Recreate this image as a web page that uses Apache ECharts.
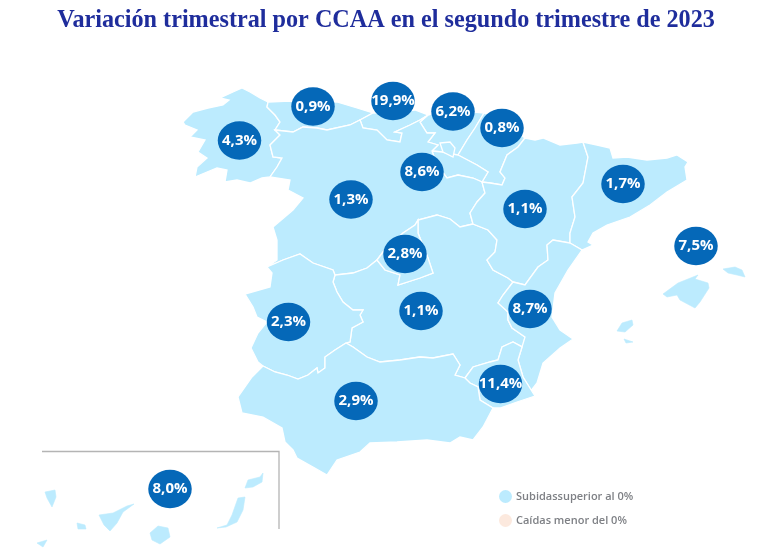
<!DOCTYPE html>
<html><head><meta charset="utf-8">
<style>html,body{margin:0;padding:0;background:#fff}#c{width:768px;height:556px}</style>
<script src="https://cdn.jsdelivr.net/npm/echarts@6/dist/echarts.min.js"></script>
</head><body><div id="c"></div>
<script>
// ---------- data ----------
const titleText = 'Variación trimestral por CCAA en el segundo trimestre de 2023';
const regionNames = ['Galicia','Asturias','Cantabria','País Vasco','Navarra','La Rioja','Castilla y León','Madrid','Aragón','Cataluña','Baleares','Castilla-La Mancha','Extremadura','Andalucía','Murcia','Comunidad Valenciana','Canarias'];
const regionValues = [4.3,0.9,19.9,6.2,0.8,8.6,1.3,2.8,1.1,1.7,7.5,1.1,2.3,2.9,11.4,8.7,8.0];
const islandRegions = ['Baleares','Canarias'];
const legendUp = 'Subidassuperior al 0%';
const legendDown = 'Caídas menor del 0%';

// ---------- map geometry (map units), shared borders ----------
const arcs = {
 gal_coast:[[268,102],[260,98],[250,92],[242,88],[233,92],[220,98],[229,100],[223,105],[208,108],[193,112],[183,122],[185,125],[197,130],[190,137],[205,140],[198,152],[207,158],[197,167],[195,177],[207,172],[217,168],[227,170],[225,182],[237,180],[250,183],[262,178],[270,177]],
 gal_ast:[[275,130],[280,122],[275,115],[267,107],[268,102]],
 gal_cyl:[[270,177],[277,167],[282,158],[273,157],[270,145],[280,135],[275,130]],
 ast_coast:[[268,102],[290,101],[337,102],[357,108],[373,113]],
 ast_cant:[[373,113],[360,120]],
 ast_cyl:[[275,130],[293,132],[303,127],[317,128],[327,130],[350,125],[360,120]],
 cant_coast:[[373,113],[393,112],[415,110],[428,115]],
 cant_cyl:[[360,120],[363,128],[377,130],[387,140],[400,142],[402,133],[395,132],[410,125],[420,120],[428,115]],
 pv_coast:[[428,115],[447,110],[465,111],[484,113]],
 pv_nav:[[484,113],[475,128],[467,140],[458,155]],
 pv_rio:[[458,155],[442,152],[432,151]],
 pv_cyl:[[428,115],[420,122],[427,133],[435,133],[428,142],[438,145],[432,151]],
 rio_nav:[[458,155],[477,165],[488,172],[482,182]],
 rio_cyl:[[432,151],[437,165],[447,178],[458,175],[473,178],[482,182]],
 nav_coast:[[484,113],[500,120],[525,138]],
 nav_ara:[[525,138],[518,147],[507,155],[500,172],[505,178],[502,185],[490,183],[482,182]],
 ara_front:[[525,138],[535,140],[543,138],[560,145],[577,143],[583,142]],
 ara_cyl:[[482,182],[485,193],[477,202],[470,213],[473,224]],
 ara_clm:[[473,224],[488,230],[497,240],[495,252],[487,260],[493,270],[508,278],[513,282]],
 ara_val:[[513,282],[525,285],[538,267],[548,260],[547,245],[553,240],[570,243]],
 ara_cat:[[570,243],[570,233],[575,217],[572,197],[583,183],[588,157],[583,142]],
 cat_coast:[[583,142],[597,145],[610,148],[613,158],[627,157],[647,160],[667,158],[677,155],[688,162],[685,167],[687,180],[667,192],[650,205],[630,217],[607,225],[593,233],[588,242],[593,245],[582,250]],
 cat_val:[[570,243],[582,250]],
 val_coast:[[582,250],[568,270],[555,293],[552,317],[560,330],[573,339],[560,348],[543,363],[537,383],[530,392],[533,393]],
 val_clm:[[513,282],[503,295],[498,303],[508,312],[508,320],[512,328],[525,337],[523,347],[522,347]],
 val_mur:[[522,347],[518,360],[523,377],[528,385],[533,393]],
 mur_coast:[[533,393],[535,396],[517,402],[500,408],[493,408]],
 mur_clm:[[465,378],[473,367],[490,362],[498,360],[502,347],[513,342],[522,347]],
 mur_and:[[465,378],[470,383],[478,387],[480,400],[493,408]],
 and_coast:[[493,408],[483,427],[473,440],[460,437],[450,443],[427,440],[397,442],[370,443],[360,452],[337,460],[327,475],[313,467],[297,458],[293,450],[285,442],[282,428],[263,417],[242,413],[238,397],[252,377],[263,366]],
 and_ext:[[263,366],[275,372],[287,375],[298,379],[308,375],[317,368],[318,373],[325,368],[325,357],[335,350],[346,343]],
 and_clm:[[346,343],[353,347],[367,357],[380,362],[400,360],[420,357],[433,358],[453,354],[460,365],[455,375],[465,378]],
 ext_clm:[[346,343],[350,342],[352,328],[363,322],[360,315],[363,310],[353,310],[343,302],[337,292],[333,282],[335,275]],
 ext_cyl:[[267,267],[283,260],[300,254],[313,263],[333,270],[335,275]],
 ext_port:[[267,267],[272,273],[270,287],[245,294],[253,307],[257,317],[267,322],[258,333],[251,348],[258,362],[263,366]],
 cyl_port:[[270,177],[290,180],[288,190],[303,198],[293,210],[273,227],[277,240],[277,260],[267,267]],
 cyl_clmN:[[473,224],[460,227],[450,219],[437,215],[418,220]],
 cyl_mad:[[377,260],[383,252],[403,233],[415,225],[418,220]],
 cyl_clmS:[[335,275],[353,273],[367,268],[377,260]],
 mad_clm:[[418,220],[418,233],[428,258],[433,273],[420,278],[398,285],[400,275],[385,270],[377,260]]
};
const islands = {
 mallorca:[[663,294],[678,283],[693,277],[698,275],[695,279],[708,283],[709,288],[700,302],[695,308],[680,300],[677,295],[667,297]],
 menorca:[[723,269],[735,267],[742,270],[745,277],[737,275],[728,273]],
 ibiza:[[617,331],[622,323],[632,320],[633,325],[625,332]],
 formentera:[[624,339],[627,340],[633,342],[626,343]],
 hierro:[[37,543],[47,540],[43,547]],
 gomera:[[77,523],[85,525],[86,529],[78,529]],
 palma:[[45,492],[55,490],[56,497],[52,507],[47,498]],
 tenerife:[[99,515],[113,513],[127,506],[134,504],[123,512],[117,523],[110,531],[104,525]],
 grancanaria:[[150,533],[158,526],[168,528],[170,537],[160,544],[152,540]],
 fuerteventura:[[217,528],[227,525],[232,515],[238,498],[245,497],[243,510],[237,522],[226,527]],
 lanzarote:[[245,488],[248,480],[260,477],[263,473],[262,482],[253,487]],
 trevino:[[440,143],[450,142],[455,148],[453,157],[443,152]]
};
const rings = {
 'Galicia':[['gal_coast','gal_cyl','gal_ast']],
 'Asturias':[['ast_coast','ast_cant','-ast_cyl','gal_ast']],
 'Cantabria':[['cant_coast','-cant_cyl','-ast_cant']],
 'País Vasco':[['pv_coast','pv_nav','pv_rio','-pv_cyl']],
 'Navarra':[['nav_coast','nav_ara','-rio_nav','-pv_nav']],
 'La Rioja':[['rio_nav','-rio_cyl','-pv_rio']],
 'Castilla y León':[['ast_cyl','cant_cyl','pv_cyl','rio_cyl','ara_cyl','cyl_clmN','-cyl_mad','-cyl_clmS','-ext_cyl','-cyl_port','gal_cyl'],['trevino']],
 'Castilla-La Mancha':[['ara_clm','val_clm','-mur_clm','-and_clm','ext_clm','cyl_clmS','-mad_clm','-cyl_clmN']],
 'Madrid':[['cyl_mad','mad_clm']],
 'Aragón':[['ara_front','-ara_cat','-ara_val','-ara_clm','-ara_cyl','-nav_ara']],
 'Cataluña':[['cat_coast','-cat_val','ara_cat']],
 'Comunidad Valenciana':[['ara_val','cat_val','val_coast','-val_mur','-val_clm']],
 'Murcia':[['mur_clm','val_mur','mur_coast','-mur_and']],
 'Extremadura':[['ext_cyl','-ext_clm','-and_ext','-ext_port']],
 'Andalucía':[['and_ext','and_clm','mur_and','and_coast']],
 'Baleares':[['mallorca'],['menorca'],['ibiza'],['formentera']],
 'Canarias':[['hierro'],['gomera'],['palma'],['tenerife'],['grancanaria'],['fuerteventura'],['lanzarote']]
};
// anchor of each region's bubble, a property of the map
const anchors = {
 'Galicia':[239.5,140.5],'Asturias':[313,106.5],'Cantabria':[393,101],'País Vasco':[453,111.5],'Navarra':[502,128],'La Rioja':[422,172],
 'Castilla y León':[351,199.5],'Madrid':[405,254],'Aragón':[525,209],'Cataluña':[623,184],'Baleares':[696,246],'Castilla-La Mancha':[421,311],
 'Extremadura':[288.5,322],'Andalucía':[356,401],'Murcia':[500.5,384],'Comunidad Valenciana':[530,309],'Canarias':[170,489]
};

function buildRing(list){
  const out=[];
  list.forEach(n=>{
    const rev=n[0]==='-', key=rev?n.slice(1):n;
    const p=(arcs[key]||islands[key]).slice();
    if(rev)p.reverse();
    out.push(...p);
  });
  if(out[0][0]!==out[out.length-1][0]||out[0][1]!==out[out.length-1][1])out.push(out[0]);
  return out;
}
const geoJson={type:'FeatureCollection',features:Object.keys(rings).map(name=>({
  type:'Feature',
  properties:{name},
  geometry:{type:'MultiPolygon',coordinates:rings[name].map(r=>[buildRing(r)])}
}))};
echarts.registerMap('espana',geoJson);

const colorUp='#BCEBFE', colorDown='#FBE3D6', bubble='#0568B8';
const fmt=v=>v.toFixed(1).replace('.',',')+'%';
const bubbleData=regionNames.map((n,i)=>({name:n,value:[anchors[n][0],anchors[n][1],regionValues[i]]}));
const regionStyle=(n,i)=>{
  const fill=regionValues[i]>0?colorUp:colorDown;
  return islandRegions.includes(n)?{areaColor:fill,borderColor:fill,borderWidth:0.6}:{areaColor:fill};
};

const chart=echarts.init(document.getElementById('c'),null,{renderer:'canvas'});
chart.setOption({
  animation:false,
  backgroundColor:'#fff',
  title:{text:titleText,left:386,textAlign:'center',top:9,padding:0,
    textStyle:{fontFamily:'"Liberation Serif"',fontWeight:'bold',fontSize:24.2,color:'#1F2D9C'}},
  legend:{left:499,top:490,orient:'vertical',itemGap:11,itemWidth:13,itemHeight:16,selectedMode:false,padding:0,
    textStyle:{fontFamily:'"Open Sans"',fontSize:11,fontWeight:600,color:'#7E8085',padding:[0,0,0,-1]},
    data:[{name:legendUp,icon:'circle',itemStyle:{color:colorUp}},{name:legendDown,icon:'circle',itemStyle:{color:colorDown}}]},
  geo:{map:'espana',silent:true,roam:false,
    projection:{project:p=>p,unproject:p=>p},
    boundingCoords:[[0,0],[768,556]],left:0,top:0,width:768,height:556,
    itemStyle:{areaColor:colorUp,borderColor:'#fff',borderWidth:1.3},
    regions:regionNames.map((n,i)=>({name:n,itemStyle:regionStyle(n,i)})),
    label:{show:false},emphasis:{disabled:true}},
  series:[
    {name:legendUp,type:'scatter',coordinateSystem:'geo',geoIndex:0,symbol:'circle',symbolSize:[43.5,38.5],silent:true,
     itemStyle:{color:bubble,opacity:1},data:bubbleData,z:5,
     encode:{value:2},
     label:{show:true,position:'inside',formatter:p=>fmt(p.value[2]),color:'#fff',fontFamily:'"Open Sans"',fontWeight:'bold',fontSize:15}},
    {name:legendDown,type:'scatter',coordinateSystem:'geo',geoIndex:0,silent:true,itemStyle:{color:colorDown},data:[]}
  ],
  graphic:[
    {type:'polyline',silent:true,shape:{points:[[42,451.5],[279,451.5],[279,529]]},style:{stroke:'#B4B4B4',lineWidth:1.3,fill:null}}
  ]
});
</script></body></html>
